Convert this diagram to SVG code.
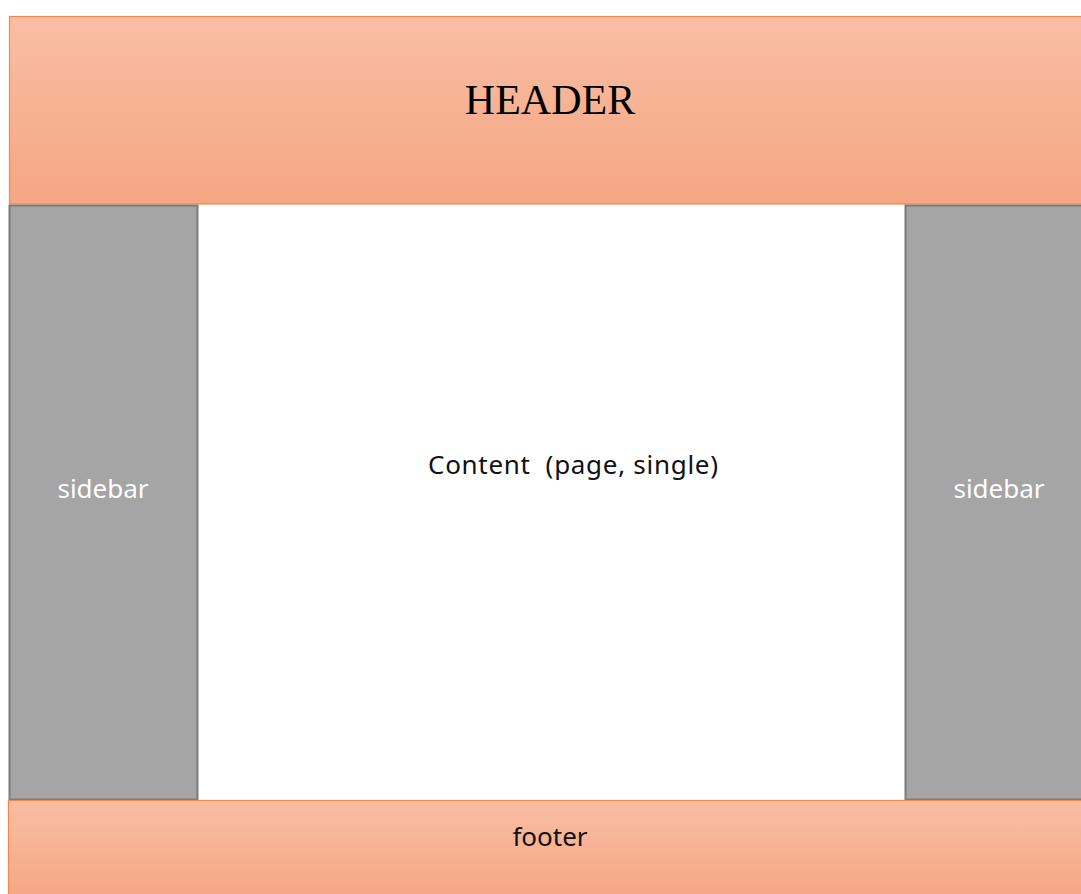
<svg xmlns="http://www.w3.org/2000/svg" width="1081" height="894" viewBox="0 0 1081 894">
<defs>
<linearGradient id="org" x1="0" y1="0" x2="0" y2="1">
<stop offset="0" stop-color="#F8BEA4"/>
<stop offset="1" stop-color="#F6A682"/>
</linearGradient>
<style>
.band{fill:url(#org);stroke:#F08A4B;stroke-width:1.2}
.side{fill:#A5A5A5;stroke:#7B7B7B;stroke-width:2}
.sans{font-family:"Noto Sans","Open Sans",sans-serif;font-size:26px;text-anchor:middle;white-space:pre}
</style>
</defs>
<rect width="1081" height="894" fill="#FFFFFF"/>
<g id="header">
<rect class="band" x="9.5" y="16.5" width="1080" height="187.5"/>
<text x="550" y="114" font-family="Liberation Serif, serif" font-size="42" text-anchor="middle" fill="#000000">HEADER</text>
</g>
<g id="sidebar-left">
<rect class="side" x="9.5" y="205.5" width="188" height="594"/>
<text class="sans" x="103" y="498" fill="#FFFFFF">sidebar</text>
</g>
<g id="content">
<text class="sans" x="573" y="474" fill="#111111" xml:space="preserve" textLength="290" lengthAdjust="spacing">Content  (page, single)</text>
</g>
<g id="sidebar-right">
<rect class="side" x="905.5" y="205.5" width="180" height="594"/>
<text class="sans" x="999" y="498" fill="#FFFFFF">sidebar</text>
</g>
<g id="footer">
<rect class="band" x="8.5" y="800.5" width="1080" height="100"/>
<text class="sans" x="550" y="846" fill="#111111">footer</text>
</g>
<g id="connectors"/>
</svg>
